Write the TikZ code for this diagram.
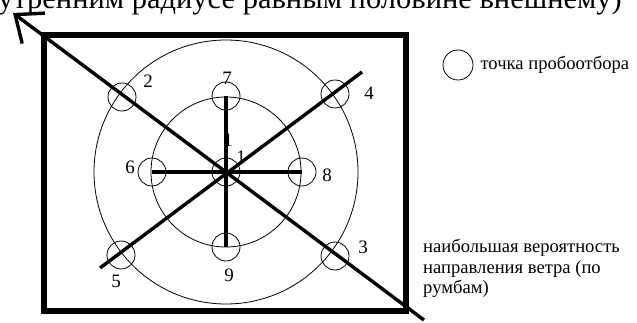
\documentclass[tikz,border=0pt]{standalone}
\usepackage{fontspec}
\setmainfont{Liberation Serif}
\usetikzlibrary{arrows.meta, positioning, calc}
\tikzset{
  frame/.style = {draw, line width=5.5pt},
  ring/.style  = {draw, line width=0.8pt},
  probe/.style = {circle, draw, line width=0.8pt, minimum size=28pt, inner sep=0pt},
  axis/.style  = {draw, line width=3.4pt},
  wind/.style  = {axis, {Straight Barb[length=23pt, width=38pt]}-},
  num/.style   = {font=\fontsize{19}{19}\selectfont, inner sep=1pt},
  note/.style  = {font=\fontsize{18.6}{20.5}\selectfont, align=left, inner sep=0pt}
}

\begin{document}
\begin{tikzpicture}[x=1pt, y=-1pt]
\useasboundingbox (0,0) rectangle (637,323);
\clip (0,0) rectangle (637,323);
%% ===== cut-off line of the text above =====
\node[anchor=base west, inner sep=0pt, font=\fontsize{30.5}{30.5}\selectfont] (cut) at (-2,9) {утренним радиусе равным половине внешнему)};
%% ===== plot =====
\draw[frame] (44,35) rectangle (406,311);
\coordinate (c) at (226,172);
\draw[ring] (c) circle[radius=75];
\draw[ring] (c) circle[radius=132];
% sampling points
\node[probe] (p1) at (c) {};
\node[probe] (p2) at (122,97) {};
\node[probe] (p3) at (335,256) {};
\node[probe] (p4) at (335,94) {};
\node[probe] (p5) at (121,255) {};
\node[probe] (p6) at (152,172) {};
\node[probe] (p7) at (226,96) {};
\node[probe] (p8) at (302,172) {};
\node[probe] (p9) at (226,247) {};
% cross
\draw[axis] (p6.center) -- (p8.center);
\draw[axis] (p7.center) -- (p9.center);
% wind directions
\coordinate (nw) at (13,13);
\coordinate (se) at (424,320);
\coordinate (sw) at (100,268);
\coordinate (ne) at (362,72);
\draw[wind] (nw) -- (se);
\draw[axis] (sw) -- (ne);
% numbers
\node[num] (n1a) at (228,140) {1};
\node[num] (n1b) at (241,157) {1};
\node[num] (n2) at (148,81) {2};
\node[num] (n3) at (363,247) {3};
\node[num] (n4) at (369,93) {4};
\node[num] (n5) at (116,281) {5};
\node[num] (n6) at (130,167) {6};
\node[num] (n7) at (227,78) {7};
\node[num] (n8) at (327,175) {8};
\node[num] (n9) at (229,275) {9};
%% ===== legend =====
\node[probe, minimum size=30pt] (key) at (458,65) {};
\node[note, right=7pt of key] (keytxt) {точка пробоотбора};
\node[note, anchor=north west] (windtxt) at (423,239) {наибольшая вероятность\\направления ветра (по\\румбам)};
\end{tikzpicture}
\end{document}
